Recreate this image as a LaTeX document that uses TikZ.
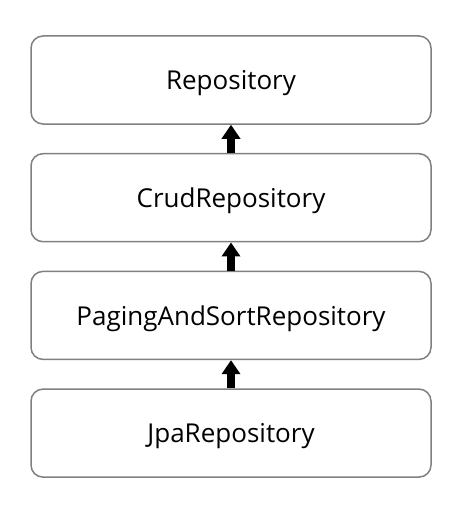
\documentclass[tikz,border=0pt]{standalone}
\usepackage{fontspec}
\setmainfont{Open Sans}
\usetikzlibrary{arrows.meta,positioning}
\definecolor{repoGris}{RGB}{128,128,128}
\tikzset{
  repo/.style={draw=repoGris,line width=1.5pt,rounded corners=12pt,
               minimum width=400pt,minimum height=88pt,text depth=0pt,
               font=\fontsize{26}{30}\selectfont},
  herencia/.style={line width=8pt,-{Triangle[width=18pt,length=14pt]}}
}

\begin{document}
\begin{tikzpicture}[x=1pt,y=-1pt,node distance=28.2pt]
\useasboundingbox (0,0) rectangle (462,508);
\node[repo] (repo) at (231,80) {Repository};
\node[repo,below=of repo] (crud) {CrudRepository};
\node[repo,below=of crud] (paging) {PagingAndSortRepository};
\node[repo,below=of paging] (jpa) {JpaRepository};
\draw[herencia] (crud) -- (repo);
\draw[herencia] (paging) -- (crud);
\draw[herencia] (jpa) -- (paging);
\end{tikzpicture}
\end{document}
